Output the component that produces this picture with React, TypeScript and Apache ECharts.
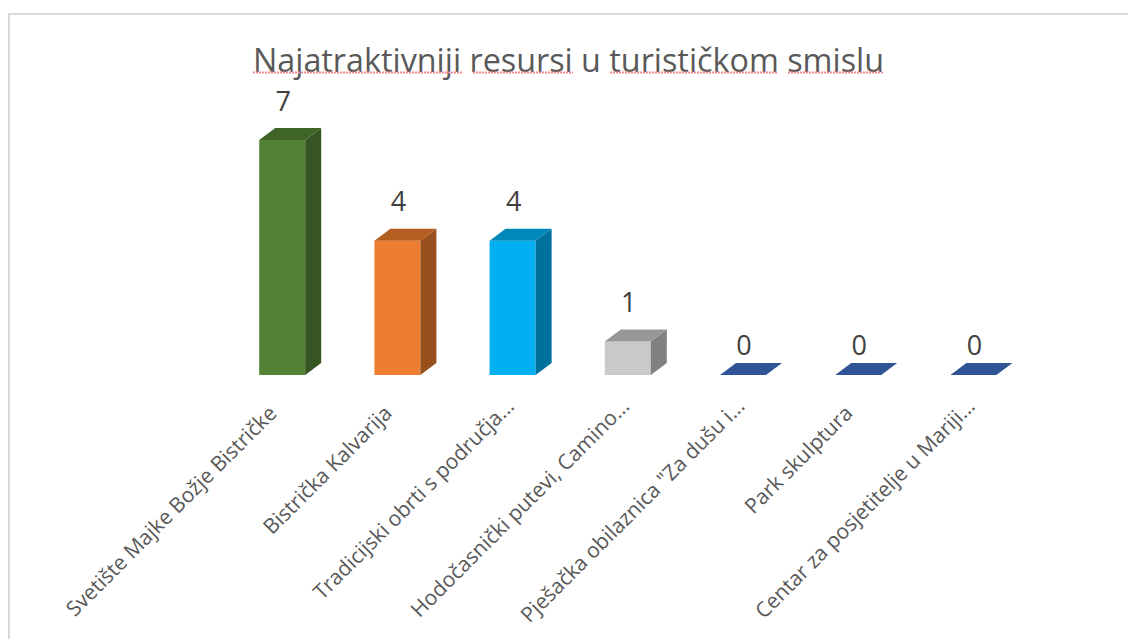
import React, { useEffect, useRef } from "react";
import * as echarts from "echarts";

const categories = [
  "Svetište Majke Božje Bistričke",
  "Bistrička Kalvarija",
  "Tradicijski obrti s područja...",
  "Hodočasnički putevi, Camino...",
  "Pješačka obilaznica \"Za dušu i...",
  "Park skulptura",
  "Centar za posjetitelje u Mariji...",
];
const values = [7, 4, 4, 1, 0, 0, 0];
const frontColors = ["#548235", "#ED7D31", "#00B0F0", "#C9C9C9", "#2F5597", "#2F5597", "#2F5597"];
const topColors = ["#3F6428", "#B45F22", "#0088B8", "#979797", "#2F5597", "#2F5597", "#2F5597"];
const sideColors = ["#375623", "#974F1C", "#00719C", "#808080", "#2F5597", "#2F5597", "#2F5597"];
const titleText = "Najatraktivniji resursi u turističkom smislu";

export default function App() {
  const ref = useRef<HTMLDivElement>(null);
  useEffect(() => {
    document.body.style.margin = "0";
    const chart = echarts.init(ref.current!, undefined, { renderer: "svg" });
    const W = 46, DX = 16, DY = 12;
    const squiggle = (x1: number, x2: number) => ({
      type: "line",
      z: 10,
      shape: { x1, y1: 72.5, x2, y2: 72.5 },
      style: { stroke: "#F58A8E", lineWidth: 1.8, lineDash: [2, 1] },
    });
    chart.setOption({
      animation: false,
      backgroundColor: "#fff",
      title: {
        text: titleText,
        left: 563.5,
        top: 38,
        textAlign: "center",
        textStyle: { fontFamily: "Open Sans", fontSize: 32.3, fontWeight: "normal", color: "#595959" },
      },
      grid: { left: 224.6, width: 806.4, top: 140, height: 235 },
      xAxis: {
        type: "category",
        data: categories.map((c) => ({
          value: c,
          textStyle: { padding: c.endsWith("...") ? [0, 4, 0, 0] : [0, 14, 0, 0] },
        })),
        axisLine: { show: false },
        axisTick: { show: false },
        axisLabel: {
          interval: 0,
          rotate: 45,
          margin: 24,
          fontFamily: "Open Sans",
          fontSize: 21,
          color: "#595959",
        },
      },
      yAxis: { type: "value", min: 0, max: 7, show: false, splitLine: { show: false } },
      series: [
        {
          type: "custom",
          data: values.map((v, i) => [i, v]),
          encode: { x: 0, y: 1 },
          renderItem: (params: any, api: any) => {
            const i = api.value(0);
            const v = api.value(1);
            const [cx, yTop] = api.coord([i, v]);
            const [, yBase] = api.coord([i, 0]);
            const x0 = cx - W / 2;
            const x1 = cx + W / 2;
            const children: any[] = [];
            if (v > 0) {
              children.push({
                type: "rect",
                shape: { x: x0, y: yTop, width: W, height: yBase - yTop },
                style: { fill: frontColors[i] },
              });
              children.push({
                type: "polygon",
                shape: { points: [[x1, yTop], [x1 + DX, yTop - DY], [x1 + DX, yBase - DY], [x1, yBase]] },
                style: { fill: sideColors[i] },
              });
            }
            children.push({
              type: "polygon",
              shape: { points: [[x0, yTop], [x0 + DX, yTop - DY], [x1 + DX, yTop - DY], [x1, yTop]] },
              style: { fill: topColors[i] },
            });
            children.push({
              type: "text",
              x: cx + 1,
              y: yTop - (v > 0 ? 40 : 31),
              style: {
                text: String(v),
                fontFamily: "Open Sans",
                fontSize: 27,
                fill: "#404040",
                align: "center",
                verticalAlign: "middle",
              },
            });
            return { type: "group", children };
          },
        },
      ],
      graphic: [
        { type: "rect", shape: { x: 8, y: 13, width: 1120, height: 2 }, style: { fill: "#D9D9D9" } },
        { type: "rect", shape: { x: 8, y: 13, width: 2, height: 626 }, style: { fill: "#D9D9D9" } },
        squiggle(253, 462),
        squiggle(473, 573),
        squiggle(610, 778),
        squiggle(788, 883),
      ],
    });
    return () => chart.dispose();
  }, []);
  return <div ref={ref} style={{ width: 1128, height: 639 }} />;
}
